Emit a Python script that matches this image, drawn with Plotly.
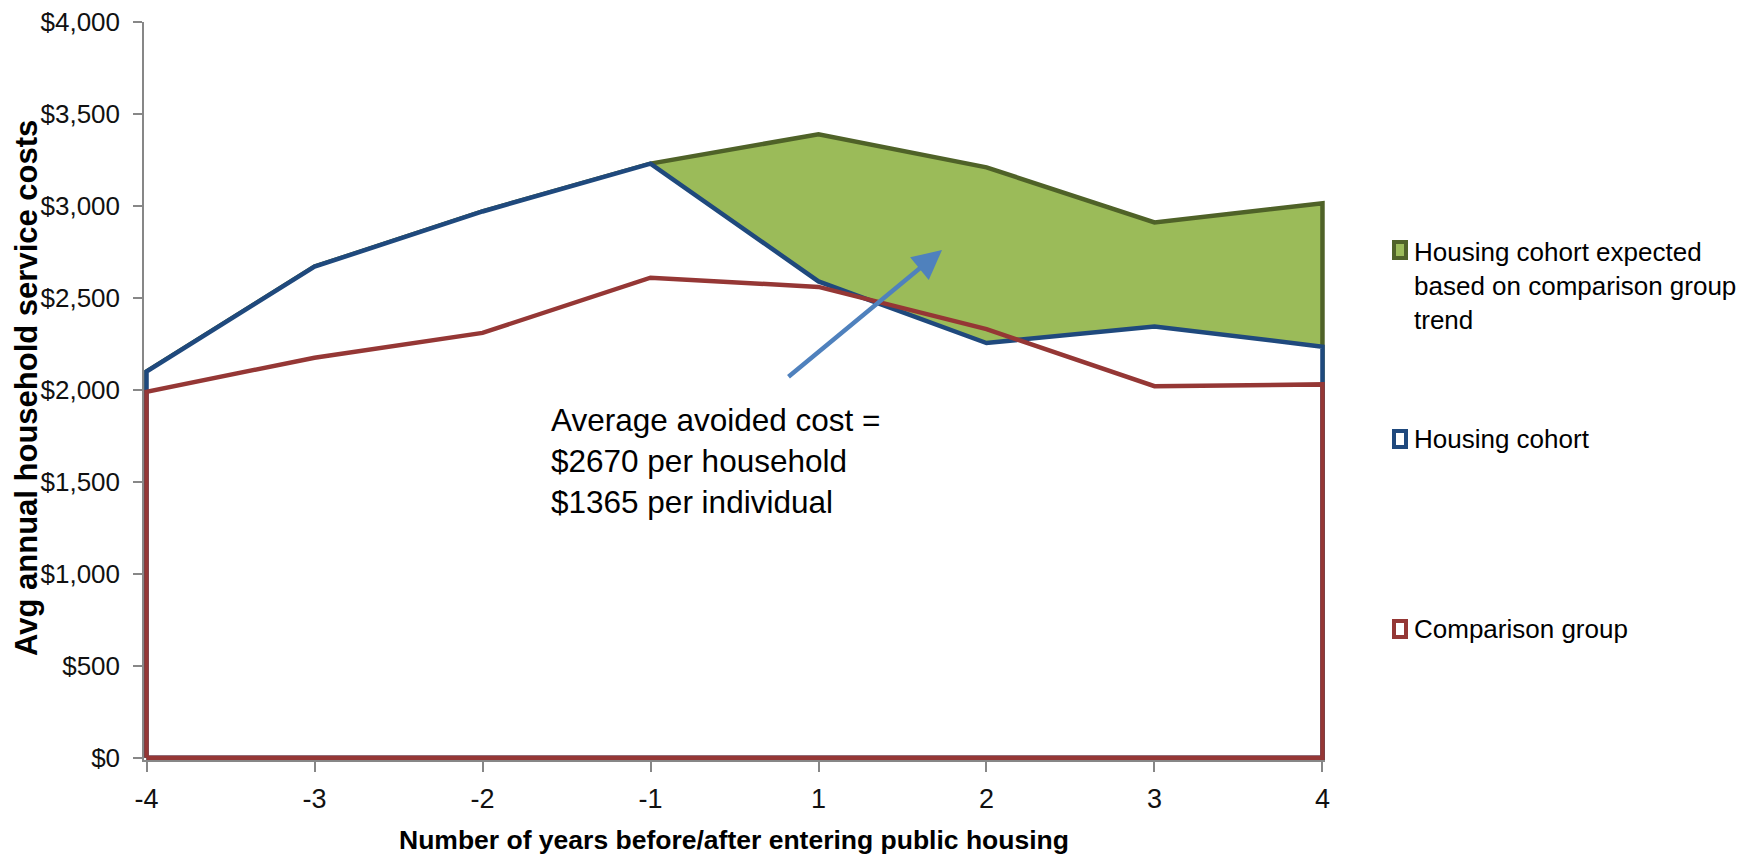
import plotly.graph_objects as go

# ---- data ----
years = ["-4", "-3", "-2", "-1", "1", "2", "3", "4"]
expected = [2100, 2670, 2970, 3230, 3390, 3210, 2910, 3015]
housing_cohort = [2100, 2670, 2970, 3230, 2590, 2255, 2345, 2235]
comparison = [1990, 2175, 2310, 2610, 2560, 2330, 2020, 2030]
series_names = ["Housing cohort expected based on comparison group trend",
                "Housing cohort", "Comparison group"]
y_ticks = [0, 500, 1000, 1500, 2000, 2500, 3000, 3500, 4000]

FONT = "Arial, Liberation Sans, sans-serif"
W, H = 1752, 861
OFF = 8  # page body margin offset
PW, PH = 1181, 738
L, T = 144 - OFF, 22 - OFF
R, B = W - L - PW, H - T - PH


def px_x(p):
    return (p - OFF - L) / PW


def px_y(p):
    return (T + PH - (p - OFF)) / PH


def area(vals):
    xs = [years[0]] + years + [years[-1], years[0]]
    ys = [0] + vals + [0, 0]
    return xs, ys


fig = go.Figure()
styles = [
    (expected, "#4F6228", "#9BBB59"),
    (housing_cohort, "#1F497D", "white"),
    (comparison, "#953735", "rgba(0,0,0,0)"),
]
for (vals, lc, fc), name in zip(styles, series_names):
    xs, ys = area(vals)
    fig.add_trace(go.Scatter(x=xs, y=ys, mode="lines", fill="toself",
                             fillcolor=fc, line=dict(color=lc, width=4.5),
                             name=name, showlegend=False, hoverinfo="skip"))

fig.update_layout(
    width=W, height=H,
    margin=dict(l=L, r=R, t=T, b=B, autoexpand=False),
    paper_bgcolor="white", plot_bgcolor="white",
    font=dict(family=FONT, color="#111111"),
    showlegend=False,
)
fig.update_xaxes(type="category", categoryorder="array", categoryarray=years,
                 range=[-0.015, 7.015], showgrid=False, zeroline=False,
                 automargin=False,
                 showline=True, linecolor="#878787", linewidth=1.5,
                 ticks="outside", ticklen=10, tickcolor="#878787", tickwidth=1.5,
                 tickfont=dict(size=27, family=FONT, color="#111111"),
                 ticklabelstandoff=4, ticklabeloverflow="allow")
fig.update_yaxes(range=[-12, 4000], tickvals=y_ticks,
                 ticktext=["$" + format(v, ",") for v in y_ticks],
                 showgrid=False, zeroline=False, automargin=False,
                 showline=True, linecolor="#878787", linewidth=1.5,
                 ticks="outside", ticklen=9, tickcolor="#878787", tickwidth=1.5,
                 tickfont=dict(size=26, family=FONT, color="#111111"),
                 ticklabelstandoff=8, ticklabeloverflow="allow")

# axis titles
fig.add_annotation(text="<b>Avg annual household service costs</b>",
                   xref="paper", yref="paper", x=px_x(26), y=px_y(388),
                   xanchor="center", yanchor="middle", borderpad=0,
                   textangle=-90, showarrow=False,
                   font=dict(size=31, family=FONT, color="#000000"))
fig.add_annotation(text="<b>Number of years before/after entering public housing</b>",
                   xref="paper", yref="paper", x=px_x(734), y=px_y(840),
                   xanchor="center", yanchor="middle",
                   showarrow=False,
                   font=dict(size=26.5, family=FONT, color="#000000"))

# callout text + arrow
fig.add_annotation(text="Average avoided cost =<br>$2670 per household<br>$1365 per individual",
                   xref="paper", yref="paper", x=px_x(549), y=px_y(400),
                   xanchor="left", yanchor="top", align="left", showarrow=False,
                   font=dict(size=31.5, family=FONT, color="#000000"))
fig.add_annotation(text="", xref="paper", yref="paper", x=px_x(942), y=px_y(250),
                   ax=787 - 942, ay=378 - 250, axref="pixel", ayref="pixel",
                   showarrow=True, arrowhead=2, arrowsize=1.3, arrowwidth=4.5,
                   arrowcolor="#4F81BD")

# legend (manual)
legend_items = [
    ("Housing cohort expected<br>based on comparison group<br>trend", 250, 286, "#4F6228", "#9BBB59"),
    ("Housing cohort", 439, 439, "#1F497D", "white"),
    ("Comparison group", 629, 629, "#953735", "white"),
]
for text, mk_y, txt_y, lc, fc in legend_items:
    fig.add_shape(type="rect", xref="paper", yref="paper",
                  x0=px_x(1394), x1=px_x(1406), y0=px_y(mk_y - 8), y1=px_y(mk_y + 8),
                  line=dict(color=lc, width=4), fillcolor=fc)
    fig.add_annotation(text=text, xref="paper", yref="paper",
                       x=px_x(1412), y=px_y(txt_y), xanchor="left", yanchor="middle",
                       align="left", showarrow=False,
                       font=dict(size=26, family=FONT, color="#000000"))

fig.write_html("out.html")
